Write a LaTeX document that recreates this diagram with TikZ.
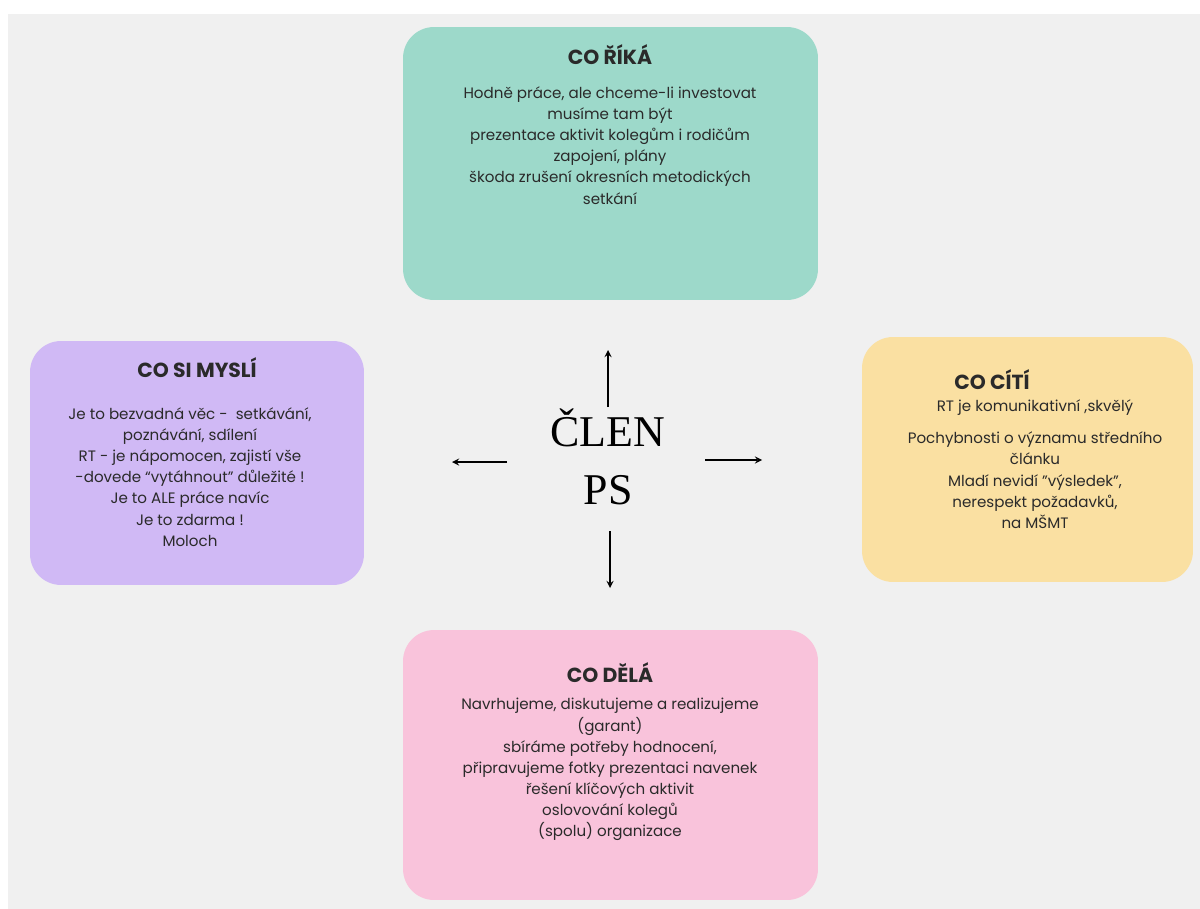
\documentclass[tikz,border=0pt]{standalone}
\usepackage{fontspec}
\setmainfont{Poppins}
\newfontfamily\clenfont{Liberation Serif}
\usetikzlibrary{positioning}
\definecolor{paper}{HTML}{F0F0F0}
\definecolor{rikacol}{HTML}{9DD9CA}
\definecolor{myslicol}{HTML}{D0B9F5}
\definecolor{citicol}{HTML}{FAE0A2}
\definecolor{delacol}{HTML}{F9C3DB}
\definecolor{ink}{HTML}{2A2A2A}
\begin{document}
\begin{tikzpicture}%
	[x=0.02cm,
	y=-0.02cm,
	card/.style={rounded corners=0.62cm, inner sep=0pt},
	title/.style={font=\fontsize{11.6}{13}\selectfont\bfseries, text=ink, inner sep=0pt},
	body/.style={font=\fontsize{8.6}{12.05}\selectfont, text=ink, align=center, inner sep=0pt},
	arrow/.style={->, >=stealth, line width=0.8pt, black}]
%
%% Background
%%
\useasboundingbox (0,0) rectangle (1200,909);
\fill[white] (0,0) rectangle (1200,909);
\fill[paper] (8,14) rectangle (1200,909);
%%
%% Cards
%%
\node[card, fill=rikacol, minimum width=8.3cm, minimum height=5.46cm] (rika) at (610.5,163.5) {};
\node[card, fill=myslicol, minimum width=6.68cm, minimum height=4.88cm] (mysli) at (197,463) {};
\node[card, fill=citicol, minimum width=6.62cm, minimum height=4.9cm] (citi) at (1027.5,459.5) {};
\node[card, fill=delacol, minimum width=8.3cm, minimum height=5.4cm] (dela) at (610.5,765) {};
%%
%% Titles
%%
\node[title] (rikatitle) at (610,55) {CO ŘÍKÁ};
\node[title] (myslititle) at (197,368) {CO SI MYSLÍ};
\node[title] (cititle) at (992,380) {CO CÍTÍ};
\node[title] (delatitle) at (610,673) {CO DĚLÁ};
%%
%% Texts
%%
\node[body, anchor=north] (rikatext) at (610,86) {Hodně práce, ale chceme-li investovat\\
musíme tam být\\
prezentace aktivit kolegům i rodičům\\
zapojení, plány\\
škoda zrušení okresních metodických\\
setkání};
\node[body, anchor=north] (myslitext) at (190,407) {Je to bezvadná věc -\ \ setkávání,\\
poznávání, sdílení\\
RT - je nápomocen, zajistí vše\\
-dovede “vytáhnout” důležité !\\
Je to ALE práce navíc\\
Je to zdarma !\\
Moloch};
\node[body, anchor=north] (cititext) at (1035,399) {RT je komunikativní ,skvělý\\[6.5pt]
Pochybnosti o významu středního\\
článku\\
Mladí nevidí "výsledek",\\
nerespekt požadavků,\\
na MŠMT};
\node[body, anchor=north] (delatext) at (610,698) {Navrhujeme, diskutujeme a realizujeme\\
(garant)\\
sbíráme potřeby hodnocení,\\
připravujeme fotky prezentaci navenek\\
řešení klíčových aktivit\\
oslovování kolegů\\
(spolu) organizace};
%%
%% Centre
%%
\node[font=\clenfont\fontsize{25}{33}\selectfont, align=center, inner sep=0pt] (clen) at (608,457) {ČLEN\\PS};
\coordinate (upa) at (608,407);
\coordinate (upb) at (608,350);
\coordinate (lefta) at (507,462);
\coordinate (leftb) at (452,462);
\coordinate (righta) at (705,460);
\coordinate (rightb) at (762,460);
\coordinate (downa) at (610,531);
\coordinate (downb) at (610,588);
\draw[arrow] (upa) -- (upb);
\draw[arrow] (lefta) -- (leftb);
\draw[arrow] (righta) -- (rightb);
\draw[arrow] (downa) -- (downb);

\end{tikzpicture}
\end{document}
